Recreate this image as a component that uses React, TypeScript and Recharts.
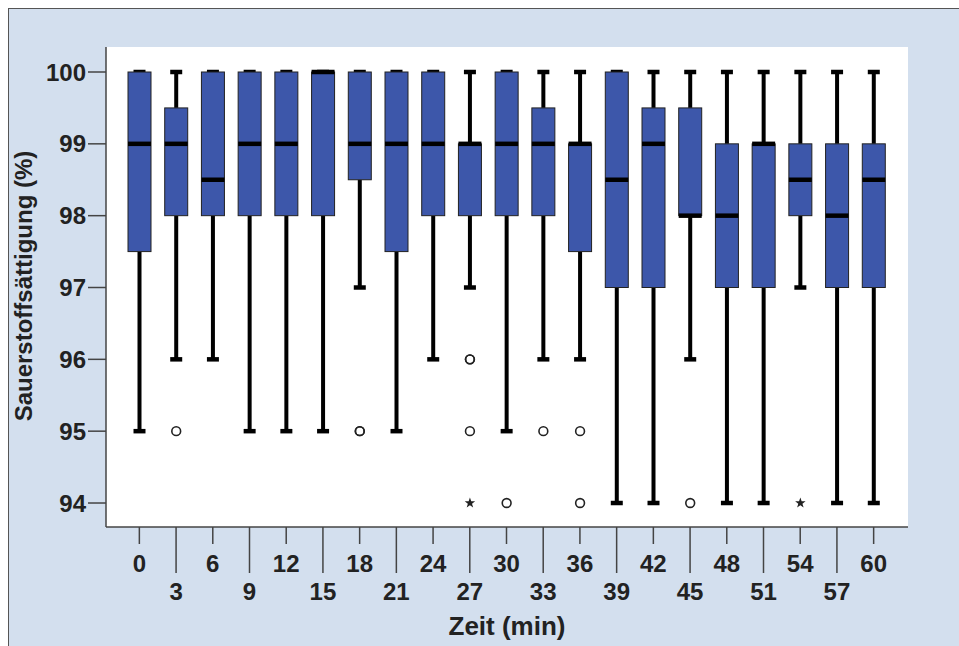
import { ComposedChart, Bar, XAxis, YAxis, CartesianGrid } from 'recharts';

const zeit = ['0', '3', '6', '9', '12', '15', '18', '21', '24', '27', '30', '33', '36', '39', '42', '45', '48', '51', '54', '57', '60'];
const minimum = [95, 96, 96, 95, 95, 95, 97, 95, 96, 97, 95, 96, 96, 94, 94, 96, 94, 94, 97, 94, 94];
const quartil1 = [97.5, 98, 98, 98, 98, 98, 98.5, 97.5, 98, 98, 98, 98, 97.5, 97, 97, 98, 97, 97, 98, 97, 97];
const median = [99, 99, 98.5, 99, 99, 100, 99, 99, 99, 99, 99, 99, 99, 98.5, 99, 98, 98, 99, 98.5, 98, 98.5];
const quartil3 = [100, 99.5, 100, 100, 100, 100, 100, 100, 100, 99, 100, 99.5, 99, 100, 99.5, 99.5, 99, 99, 99, 99, 99];
const maximum = [100, 100, 100, 100, 100, 100, 100, 100, 100, 100, 100, 100, 100, 100, 100, 100, 100, 100, 100, 100, 100];

// Ausreißer (Kreis) und Extremwerte (Stern): [Zeit, Wert]
const ausreisser: [string, number][] = [
  ['3', 95], ['18', 95], ['18', 95], ['27', 96], ['27', 96], ['27', 95], ['30', 94], ['33', 95], ['36', 95], ['36', 94], ['45', 94],
];
const extremwerte: [string, number][] = [
  ['27', 94], ['54', 94],
];

const yTicks = [94, 95, 96, 97, 98, 99, 100];

const rows = zeit.map((t, i) => ({
  t,
  box: [quartil1[i], quartil3[i]],
  min: minimum[i],
  q1: quartil1[i],
  med: median[i],
  q3: quartil3[i],
  max: maximum[i],
  circles: ausreisser.filter((o) => o[0] === t).map((o) => o[1]),
  stars: extremwerte.filter((o) => o[0] === t).map((o) => o[1]),
}));

const FONT = '"Liberation Sans", Arial, sans-serif';

function starPath(cx: number, cy: number, ro: number, ri: number) {
  let d = '';
  for (let k = 0; k < 10; k++) {
    const r = k % 2 === 0 ? ro : ri;
    const a = -Math.PI / 2 + (k * Math.PI) / 5;
    d += (k === 0 ? 'M' : 'L') + (cx + r * Math.cos(a)).toFixed(2) + ',' + (cy + r * Math.sin(a)).toFixed(2);
  }
  return d + 'Z';
}

function BoxShape(props: any) {
  const { x, y, width, height, payload } = props;
  if (x == null || y == null) return null;
  const top = Math.min(y, y + height);
  const h = Math.abs(height);
  const unit = h / (payload.q3 - payload.q1);
  const toY = (v: number) => top + (payload.q3 - v) * unit;
  const cx = x + width / 2;
  const capW = 6;
  return (
    <g>
      <line x1={cx} x2={cx} y1={toY(payload.max)} y2={toY(payload.q3)} stroke="#000" strokeWidth={4} />
      <line x1={cx} x2={cx} y1={toY(payload.q1)} y2={toY(payload.min)} stroke="#000" strokeWidth={4} />
      <line x1={cx - capW} x2={cx + capW} y1={toY(payload.max)} y2={toY(payload.max)} stroke="#000" strokeWidth={4.5} />
      <line x1={cx - capW} x2={cx + capW} y1={toY(payload.min)} y2={toY(payload.min)} stroke="#000" strokeWidth={4.5} />
      <rect x={x} y={top} width={width} height={h} fill="#3d57aa" stroke="#222" strokeWidth={1} />
      <line x1={x} x2={x + width} y1={toY(payload.med)} y2={toY(payload.med)} stroke="#000" strokeWidth={4.5} />
      {payload.circles.map((v: number, k: number) => (
        <circle key={'c' + k} cx={cx} cy={toY(v)} r={4.4} fill="#fff" stroke="#222" strokeWidth={1.6} fillOpacity={0} />
      ))}
      {payload.stars.map((v: number, k: number) => (
        <path key={'s' + k} d={starPath(cx, toY(v), 5.5, 2.2)} fill="#222" />
      ))}
    </g>
  );
}

function ZeitTick(props: any) {
  const { x, y, payload, index } = props;
  const odd = index % 2 === 1;
  return (
    <g>
      <line x1={x} x2={x} y1={y} y2={y + (odd ? 46 : 17)} stroke="#444" strokeWidth={1.5} />
      <text x={x} y={y + (odd ? 73 : 45)} textAnchor="middle" fontFamily={FONT} fontWeight="bold" fontSize={24} fill="#222">
        {payload.value}
      </text>
    </g>
  );
}

function YLabel() {
  const cx = 23;
  const cy = 277;
  return (
    <text x={cx} y={cy} transform={`rotate(-90, ${cx}, ${cy})`} textAnchor="middle" fontFamily={FONT} fontWeight="bold" fontSize={24} fill="#222">
      Sauerstoffsättigung (%)
    </text>
  );
}

function XLabel(props: any) {
  const { viewBox } = props;
  return (
    <text x={viewBox.x + viewBox.width / 2} y={viewBox.y + 108} textAnchor="middle" fontFamily={FONT} fontWeight="bold" fontSize={26} fill="#222">
      Zeit (min)
    </text>
  );
}

export default function App() {
  return (
    <div
      style={{
        position: 'fixed',
        left: 8,
        top: 8,
        width: 951,
        height: 638,
        boxSizing: 'border-box',
        background: '#d3dfee',
        borderLeft: '1px solid #555',
        borderTop: '1px solid #555',
      }}
    >
      <ComposedChart width={950} height={637} data={rows} margin={{ top: 38, right: 51, bottom: 0, left: 0 }}>
        <CartesianGrid horizontal={false} vertical={false} fill="#fff" fillOpacity={1} />
        <XAxis
          dataKey="t"
          height={119}
          padding={{ left: 15, right: 16 }}
          tickLine={false}
          tickSize={0}
          tickMargin={0}
          interval={0}
          axisLine={{ stroke: '#444', strokeWidth: 1.5 }}
          tick={<ZeitTick />}
          label={<XLabel />}
        />
        <XAxis xAxisId="top" dataKey="t" orientation="top" height={0} tick={false} tickLine={false} axisLine={{ stroke: '#888', strokeWidth: 2 }} />
        <YAxis
          type="number"
          width={97}
          domain={[93.666, 100.348]}
          ticks={yTicks}
          allowDataOverflow
          tickSize={18}
          tickMargin={2}
          tickLine={{ stroke: '#444', strokeWidth: 1.5 }}
          axisLine={{ stroke: '#444', strokeWidth: 1.5 }}
          tick={{ fontFamily: FONT, fontWeight: 'bold', fontSize: 24, fill: '#222' }}
          label={<YLabel />}
        />
        <YAxis yAxisId="right" orientation="right" width={0} tick={false} tickLine={false} axisLine={{ stroke: '#888', strokeWidth: 2 }} />
        <Bar dataKey="box" barSize={23} shape={<BoxShape />} isAnimationActive={false} />
      </ComposedChart>
    </div>
  );
}
